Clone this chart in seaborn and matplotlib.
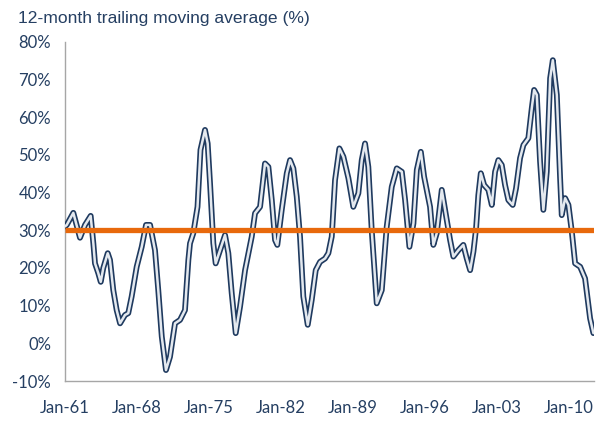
import matplotlib
matplotlib.use("Agg")
import matplotlib.pyplot as plt
from matplotlib.ticker import FixedLocator, MultipleLocator, FuncFormatter
import seaborn as sns
import pandas as pd

# Decimal year of each traced point
years = [1961.00, 1961.17, 1961.81, 1962.46, 1962.95, 1963.50, 1963.76, 1963.92, 1964.24, 1964.48,
         1964.73, 1965.16, 1965.38, 1965.70, 1966.03, 1966.36, 1966.84, 1967.16, 1967.49, 1967.98,
         1968.47, 1968.89, 1969.28, 1969.76, 1970.08, 1970.42, 1970.83, 1971.22, 1971.71, 1972.20,
         1972.68, 1973.01, 1973.17, 1973.49, 1973.90, 1974.19, 1974.63, 1974.89, 1975.12, 1975.44,
         1975.67, 1976.09, 1976.58, 1976.90, 1977.23, 1977.62, 1978.04, 1978.53, 1979.18, 1979.50,
         1979.99, 1980.47, 1980.80, 1981.13, 1981.45, 1981.67, 1982.10, 1982.59, 1982.91, 1983.23,
         1983.56, 1983.88, 1984.20, 1984.63, 1985.02, 1985.41, 1985.83, 1986.32, 1986.64, 1986.97,
         1987.29, 1987.71, 1988.10, 1988.59, 1989.07, 1989.56, 1989.89, 1990.21, 1990.53, 1990.86,
         1991.35, 1991.84, 1992.32, 1992.81, 1993.30, 1993.79, 1994.11, 1994.53, 1994.92, 1995.25,
         1995.64, 1995.96, 1996.54, 1996.86, 1997.19, 1997.68, 1998.17, 1998.49, 1998.81, 1999.30,
         1999.78, 2000.11, 2000.44, 2000.76, 2001.02, 2001.24, 2001.48, 2001.80, 2002.22, 2002.55,
         2002.87, 2003.19, 2003.52, 2003.84, 2004.16, 2004.59, 2004.91, 2005.30, 2005.63, 2006.11,
         2006.44, 2006.67, 2006.93, 2007.25, 2007.57, 2007.90, 2008.23, 2008.49, 2008.88, 2009.20,
         2009.36, 2009.69, 2010.01, 2010.34, 2010.66, 2011.15, 2011.63, 2011.95, 2012.12, 2012.44]

# 12-month trailing moving average (%)
values = [31.0, 31.4, 34.6, 28.0, 31.4, 33.8, 26.5, 21.2, 18.6, 16.3,
          20.0, 23.9, 22.1, 14.1, 8.8, 5.3, 7.5, 8.0, 12.4, 20.3,
          25.6, 31.4, 31.4, 24.7, 14.1, 1.8, -7.1, -3.6, 5.3, 6.2,
          8.8, 22.1, 26.5, 29.2, 36.2, 51.3, 56.6, 53.0, 42.4, 26.5,
          21.2, 24.7, 28.7, 23.9, 13.3, 2.7, 9.7, 19.4, 28.3, 34.5,
          36.2, 47.7, 46.8, 38.0, 27.4, 26.1, 35.4, 45.1, 48.6, 46.4,
          38.9, 28.3, 12.4, 4.9, 11.5, 19.4, 21.6, 22.5, 23.9, 28.3,
          43.3, 51.7, 49.5, 43.8, 36.2, 39.8, 48.6, 53.0, 46.8, 30.0,
          10.6, 14.1, 30.9, 41.5, 46.4, 45.5, 38.0, 25.6, 31.8, 46.0,
          50.8, 44.2, 36.2, 26.1, 29.2, 40.7, 32.7, 27.4, 23.0, 24.7,
          26.1, 22.5, 19.4, 24.3, 30.5, 39.3, 45.1, 42.0, 40.7, 36.7,
          45.5, 48.6, 47.3, 42.0, 38.0, 36.7, 41.1, 49.1, 52.6, 54.4,
          62.3, 67.2, 65.9, 48.2, 35.4, 45.5, 70.3, 75.1, 65.9, 43.8,
          34.0, 38.5, 36.7, 29.6, 21.2, 20.3, 17.2, 10.2, 6.6, 2.7]

average_level = 30

tick_years = [1961, 1968, 1975, 1982, 1989, 1996, 2003, 2010]
tick_labels = ["Jan-61", "Jan-68", "Jan-75", "Jan-82", "Jan-89", "Jan-96", "Jan-03", "Jan-10"]
y_ticks = [-10, 0, 10, 20, 30, 40, 50, 60, 70, 80]

df = pd.DataFrame({"year": years, "value": values})

sns.set_style("white")
plt.rcParams["font.family"] = ["Lato", "DejaVu Sans"]

NAVY = "#1f3a5f"
TEXT = "#253f62"
ORANGE = "#e8690c"
GREY = "#a6a6a6"

fig = plt.figure(figsize=(5.96, 4.23), dpi=100)
ax = fig.add_axes([65 / 596, 1 - 381 / 423, 529 / 596, (381 - 41.7) / 423])

sns.lineplot(data=df, x="year", y="value", ax=ax, color=NAVY, linewidth=4.2,
             solid_joinstyle="round", solid_capstyle="round", zorder=3)
sns.lineplot(data=df, x="year", y="value", ax=ax, color="#e4e9ef", linewidth=1.8,
             solid_joinstyle="round", solid_capstyle="round", zorder=4)
ax.axhline(average_level, color=ORANGE, linewidth=3.8, zorder=5, solid_capstyle="butt")

ax.set_xlim(1961, 2012.5)
ax.set_ylim(-10, 80)
ax.set_xlabel("")
ax.set_ylabel("")

ax.xaxis.set_major_locator(FixedLocator(tick_years))
ax.set_xticklabels(tick_labels)
ax.xaxis.set_minor_locator(MultipleLocator(1))
ax.yaxis.set_major_locator(FixedLocator(y_ticks))
ax.yaxis.set_major_formatter(FuncFormatter(lambda v, p: f"{int(v)}%"))

for s in ["top", "right"]:
    ax.spines[s].set_visible(False)
for s in ["left", "bottom"]:
    ax.spines[s].set_color(GREY)
    ax.spines[s].set_linewidth(1.0)

ax.tick_params(axis="x", which="major", direction="inout", length=8, width=1, color=GREY,
               labelsize=12, labelcolor=TEXT, pad=10)
ax.tick_params(axis="x", which="minor", direction="in", length=3.5, width=1, color=GREY)
ax.tick_params(axis="y", which="major", direction="out", length=4, width=1, color=GREY,
               labelsize=12, labelcolor=TEXT, pad=6)
ax.grid(False)

fig.text(18 / 596, 1 - 18 / 423, "12-month trailing moving average (%)", ha="left", va="center",
         fontsize=12.6, color=TEXT, family=["Liberation Sans", "DejaVu Sans"])

fig.savefig("out.png", dpi=100)
